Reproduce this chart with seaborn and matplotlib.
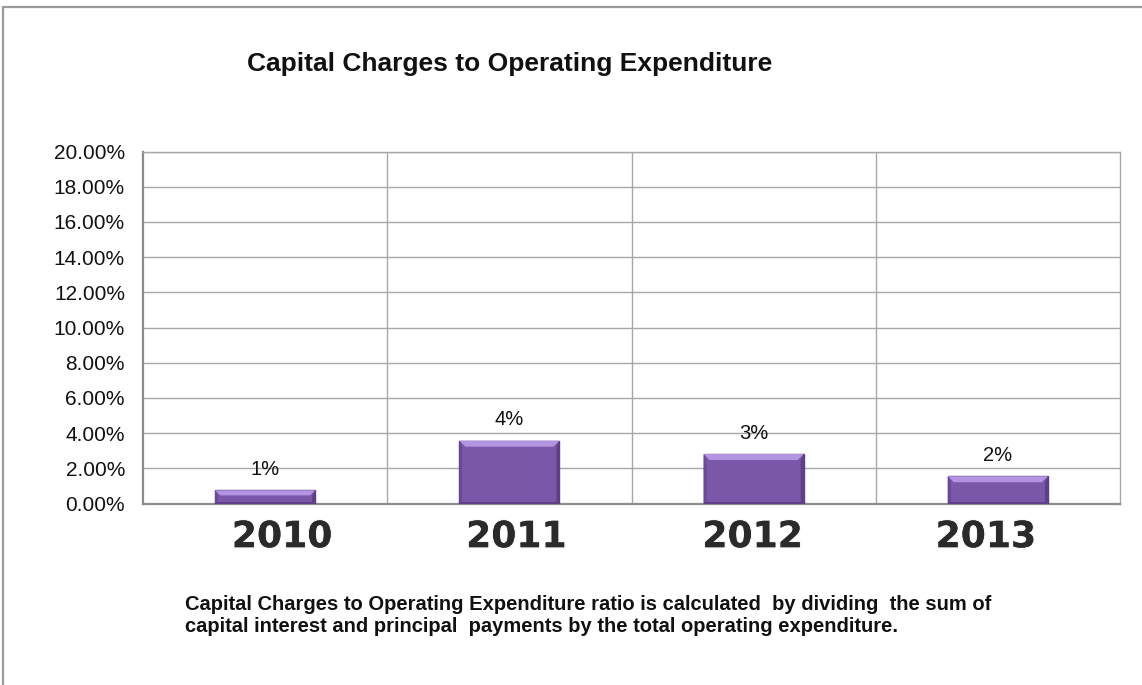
import matplotlib
matplotlib.use("Agg")
import matplotlib.pyplot as plt
import matplotlib.patheffects as pe
import matplotlib.transforms as mtransforms
import seaborn as sns
import pandas as pd
from matplotlib.patches import Polygon
from matplotlib.lines import Line2D
from matplotlib.ticker import FixedLocator, PercentFormatter

# ---- data ----
years = ["2010", "2011", "2012", "2013"]
ratio = [0.0075, 0.0357, 0.0281, 0.0155]          # capital charges / operating expenditure
y_ticks = [0.00, 0.02, 0.04, 0.06, 0.08, 0.10, 0.12, 0.14, 0.16, 0.18, 0.20]
title_text = "Capital Charges to Operating Expenditure"
note_lines = [
    "Capital Charges to Operating Expenditure ratio is calculated  by dividing  the sum of",
    "capital interest and principal  payments by the total operating expenditure.",
]

sns.set_theme(style="white")
plt.rcParams["font.family"] = ["Liberation Sans", "DejaVu Sans"]

W, H = 1142, 685
fig = plt.figure(figsize=(W / 100, H / 100), dpi=100)
fig.patch.set_facecolor("white")

# plot area in pixels
L, R, T, B = 143, 1120, 151.5, 503.5
ax = fig.add_axes([L / W, (H - B) / H, (R - L) / W, (B - T) / H])

df = pd.DataFrame({"year": years, "ratio": ratio})
sns.barplot(data=df, x="year", y="ratio", color="#7B57A9", saturation=1,
            width=0.41, edgecolor="#5C3D86", linewidth=1.0, ax=ax, zorder=3)

ax.set_xlim(-0.5, len(years) - 0.5)
ax.set_ylim(y_ticks[0], y_ticks[-1])
ax.set_xlabel("")
ax.set_ylabel("")
ax.set_axisbelow(True)

ax.yaxis.set_major_locator(FixedLocator(y_ticks))
ax.yaxis.set_major_formatter(PercentFormatter(xmax=1, decimals=2))
grid_col = "#a8a8a8"
ax.grid(axis="y", color=grid_col, linewidth=1.0)
ax.set_xticks([i + 0.5 for i in range(len(years) - 1)], minor=True)
ax.grid(axis="x", which="minor", color=grid_col, linewidth=1.0)
ax.grid(axis="x", which="major", visible=False)

ax.tick_params(axis="x", which="both", length=0, pad=12)
ax.tick_params(axis="y", length=0, pad=13, labelsize=15, labelcolor="#111111")

# year labels: heavy, slightly soft, nudged horizontally
label_shift_px = [17, 7, -1, -12]
for lab, dx in zip(ax.get_xticklabels(), label_shift_px):
    lab.set_fontfamily("DejaVu Sans")
    lab.set_fontweight("bold")
    lab.set_fontsize(26)
    lab.set_color("#2a2a2a")
    lab.set_path_effects([pe.withStroke(linewidth=1.5, foreground="#e8dfd6", alpha=0.45),
                          pe.Normal()])
    lab.set_transform(lab.get_transform() +
                      mtransforms.ScaledTranslation(dx / 100, 0, fig.dpi_scale_trans))

for side in ["top", "right"]:
    ax.spines[side].set_color(grid_col)
    ax.spines[side].set_linewidth(1.0)
for side in ["left", "bottom"]:
    ax.spines[side].set_color("#8c8c8c")
    ax.spines[side].set_linewidth(1.6)

# bevelled look on each bar
sx = (len(years)) / (R - L)
sy = (y_ticks[-1] - y_ticks[0]) / (B - T)
for p in ax.patches:
    x0, w, h = p.get_x(), p.get_width(), p.get_height()
    x1 = x0 + w
    b = min(6.0, h / sy / 2.6)
    bx, by = b * sx, b * sy
    s = 3.0 * sx
    ax.add_patch(Polygon([(x0, 0), (x0, h), (x0 + s, h - by), (x0 + s, 0)],
                         closed=True, facecolor="#6A4996", edgecolor="none", zorder=4))
    ax.add_patch(Polygon([(x1, 0), (x1, h), (x1 - s, h - by), (x1 - s, 0)],
                         closed=True, facecolor="#5E3F88", edgecolor="none", zorder=4))
    ax.add_patch(Polygon([(x0, h), (x1, h), (x1 - bx, h - by), (x0 + bx, h - by)],
                         closed=True, facecolor="#B394E0", edgecolor="none", zorder=5))
    ax.add_patch(Polygon([(x0, 0), (x1, 0), (x1, 2 * sy), (x0, 2 * sy)],
                         closed=True, facecolor="#5E3F88", edgecolor="none", zorder=5))

# value labels
for p, v in zip(ax.patches[:len(ratio)], ratio):
    ax.annotate(f"{v * 100:.0f}%", xy=(p.get_x() + p.get_width() / 2, v),
                xytext=(0, 21 * 72 / 100), textcoords="offset points",
                ha="center", va="center", fontsize=14.5, color="#111111", zorder=6)

# title and footnote
fig.text(510 / W, 1 - 64 / H, title_text, ha="center", va="center",
         fontsize=19, fontweight="bold", color="#111111")
fig.text(185 / W, 1 - 604 / H, note_lines[0], ha="left", va="center",
         fontsize=14.5, fontweight="bold", color="#111111")
fig.text(185 / W, 1 - 627 / H, note_lines[1], ha="left", va="center",
         fontsize=14.5, fontweight="bold", color="#111111")

# outer frame (top and left edges)
fig.add_artist(Line2D([2.5 / W, 1], [1 - 6.5 / H, 1 - 6.5 / H],
                      transform=fig.transFigure, color="#9a9a9a", linewidth=1.6))
fig.add_artist(Line2D([2.5 / W, 2.5 / W], [0, 1 - 6.5 / H],
                      transform=fig.transFigure, color="#9a9a9a", linewidth=1.6))

fig.savefig("out.png", dpi=100, facecolor="white")
